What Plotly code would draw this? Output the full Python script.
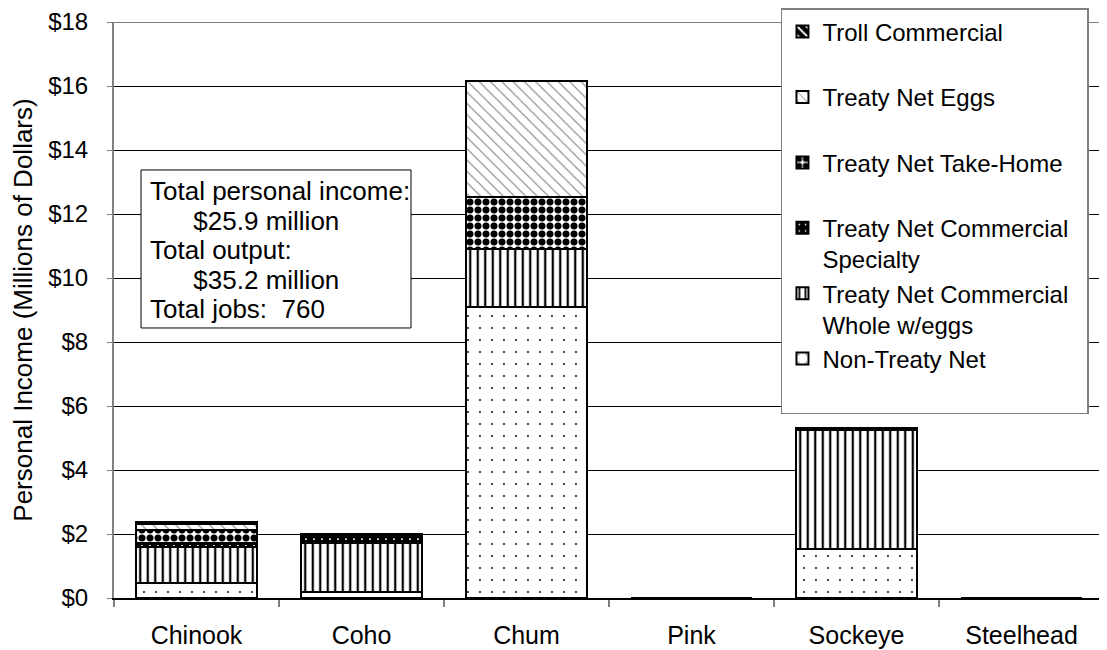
import plotly.graph_objects as go

categories = ["Chinook", "Coho", "Chum", "Pink", "Sockeye", "Steelhead"]

non_treaty_net = [0.47, 0.18, 9.08, 0, 1.53, 0]
treaty_whole_eggs = [1.13, 1.54, 1.82, 0, 3.72, 0]
treaty_specialty = [0.12, 0.06, 0.0, 0, 0.0, 0]
treaty_take_home = [0.40, 0.12, 1.62, 0, 0.03, 0]
treaty_eggs = [0.18, 0.05, 3.63, 0, 0.02, 0]
troll_commercial = [0.06, 0.05, 0.0, 0, 0.0, 0]

series_names = [
    "Non-Treaty Net<br> ",
    "Treaty Net Commercial<br>Whole w/eggs",
    "Treaty Net Commercial\u00a0\u00a0<br>Specialty",
    "Treaty Net Take-Home<br> ",
    "Treaty Net Eggs<br> ",
    "Troll Commercial<br> ",
]
series_values = [non_treaty_net, treaty_whole_eggs, treaty_specialty,
                 treaty_take_home, treaty_eggs, troll_commercial]

summary_lines = [
    "Total personal income:",
    "\u00a0" * 6 + "$25.9 million",
    "Total output:",
    "\u00a0" * 6 + "$35.2 million",
    "Total jobs:\u00a0\u00a0760",
]

patterns = [
    dict(shape=".", fgcolor="black", bgcolor="white", size=12, solidity=0.02, fillmode="replace"),
    dict(shape="|", fgcolor="black", bgcolor="white", size=7.5, solidity=0.3, fillmode="replace"),
    dict(shape=".", fgcolor="white", bgcolor="black", size=8, solidity=0.05, fillmode="replace"),
    dict(shape=".", fgcolor="black", bgcolor="white", size=8, solidity=0.6, fillmode="replace"),
    dict(shape="\\", fgcolor="#808080", bgcolor="white", size=8, solidity=0.14, fillmode="replace"),
    dict(shape="\\", fgcolor="white", bgcolor="black", size=8, solidity=0.3, fillmode="replace"),
]

FONT = "Liberation Sans, Arial, sans-serif"

fig = go.Figure()
for i, (name, vals, pat) in enumerate(zip(series_names, series_values, patterns)):
    fig.add_trace(go.Bar(
        x=categories, y=vals, name=name, legendgroup=f"g{i}",
        marker=dict(color=pat["bgcolor"], pattern=pat,
                    line=dict(color="black", width=2)),
    ))

# summary text box (one annotation per line for tighter line spacing)
line_y = [0.7066, 0.6545, 0.6042, 0.5521, 0.5017]
line_x = [0.0343, 0.0343, 0.0343, 0.0343, 0.0343]
annotations = [
    dict(xref="paper", yref="paper", x=lx, y=ly, xanchor="left", yanchor="middle",
         text=t, showarrow=False, font=dict(family=FONT, size=26, color="black"))
    for t, lx, ly in zip(summary_lines, line_x, line_y)
]

fig.update_layout(
    width=1099, height=642,
    barmode="stack", bargap=0.27,
    plot_bgcolor="white", paper_bgcolor="white",
    font=dict(family=FONT, size=25, color="black"),
    margin=dict(l=106, r=3, t=14, b=52, autoexpand=False),
    showlegend=True,
    legend=dict(
        x=0.6737, xanchor="left", y=1.0, yanchor="top", yref="container",
        bgcolor="white", bordercolor="#808080", borderwidth=1.5,
        valign="top", tracegroupgap=0, traceorder="reversed",
        maxheight=1.0,
        font=dict(family=FONT, size=24, color="black"),
    ),
    xaxis=dict(
        showline=True, linecolor="black", linewidth=2,
        ticks="outside", tickson="boundaries", ticklen=7, tickcolor="#808080",
        tickwidth=2, showgrid=False,
        ticklabelstandoff=14,
        tickfont=dict(size=25),
    ),
    yaxis=dict(
        range=[0, 18], dtick=2, tickprefix="$",
        showgrid=True, gridcolor="black", gridwidth=1,
        showline=True, linecolor="#808080", linewidth=2,
        ticks="outside", ticklen=5, tickcolor="#808080",
        ticklabelstandoff=14,
        zeroline=False,
        title=dict(text="Personal Income (Millions of Dollars)", font=dict(size=26), standoff=16),
        tickfont=dict(size=24),
    ),
    shapes=[
        dict(type="line", xref="paper", yref="y", x0=0, x1=1, y0=18, y1=18,
             line=dict(color="#808080", width=2), layer="above"),
        dict(type="rect", xref="paper", yref="paper", x0=0.0273, x1=0.300,
             y0=0.4688, y1=0.7431, fillcolor="white",
             line=dict(color="black", width=1), layer="above"),
    ],
    annotations=annotations,
)

fig.write_html("out.html")
